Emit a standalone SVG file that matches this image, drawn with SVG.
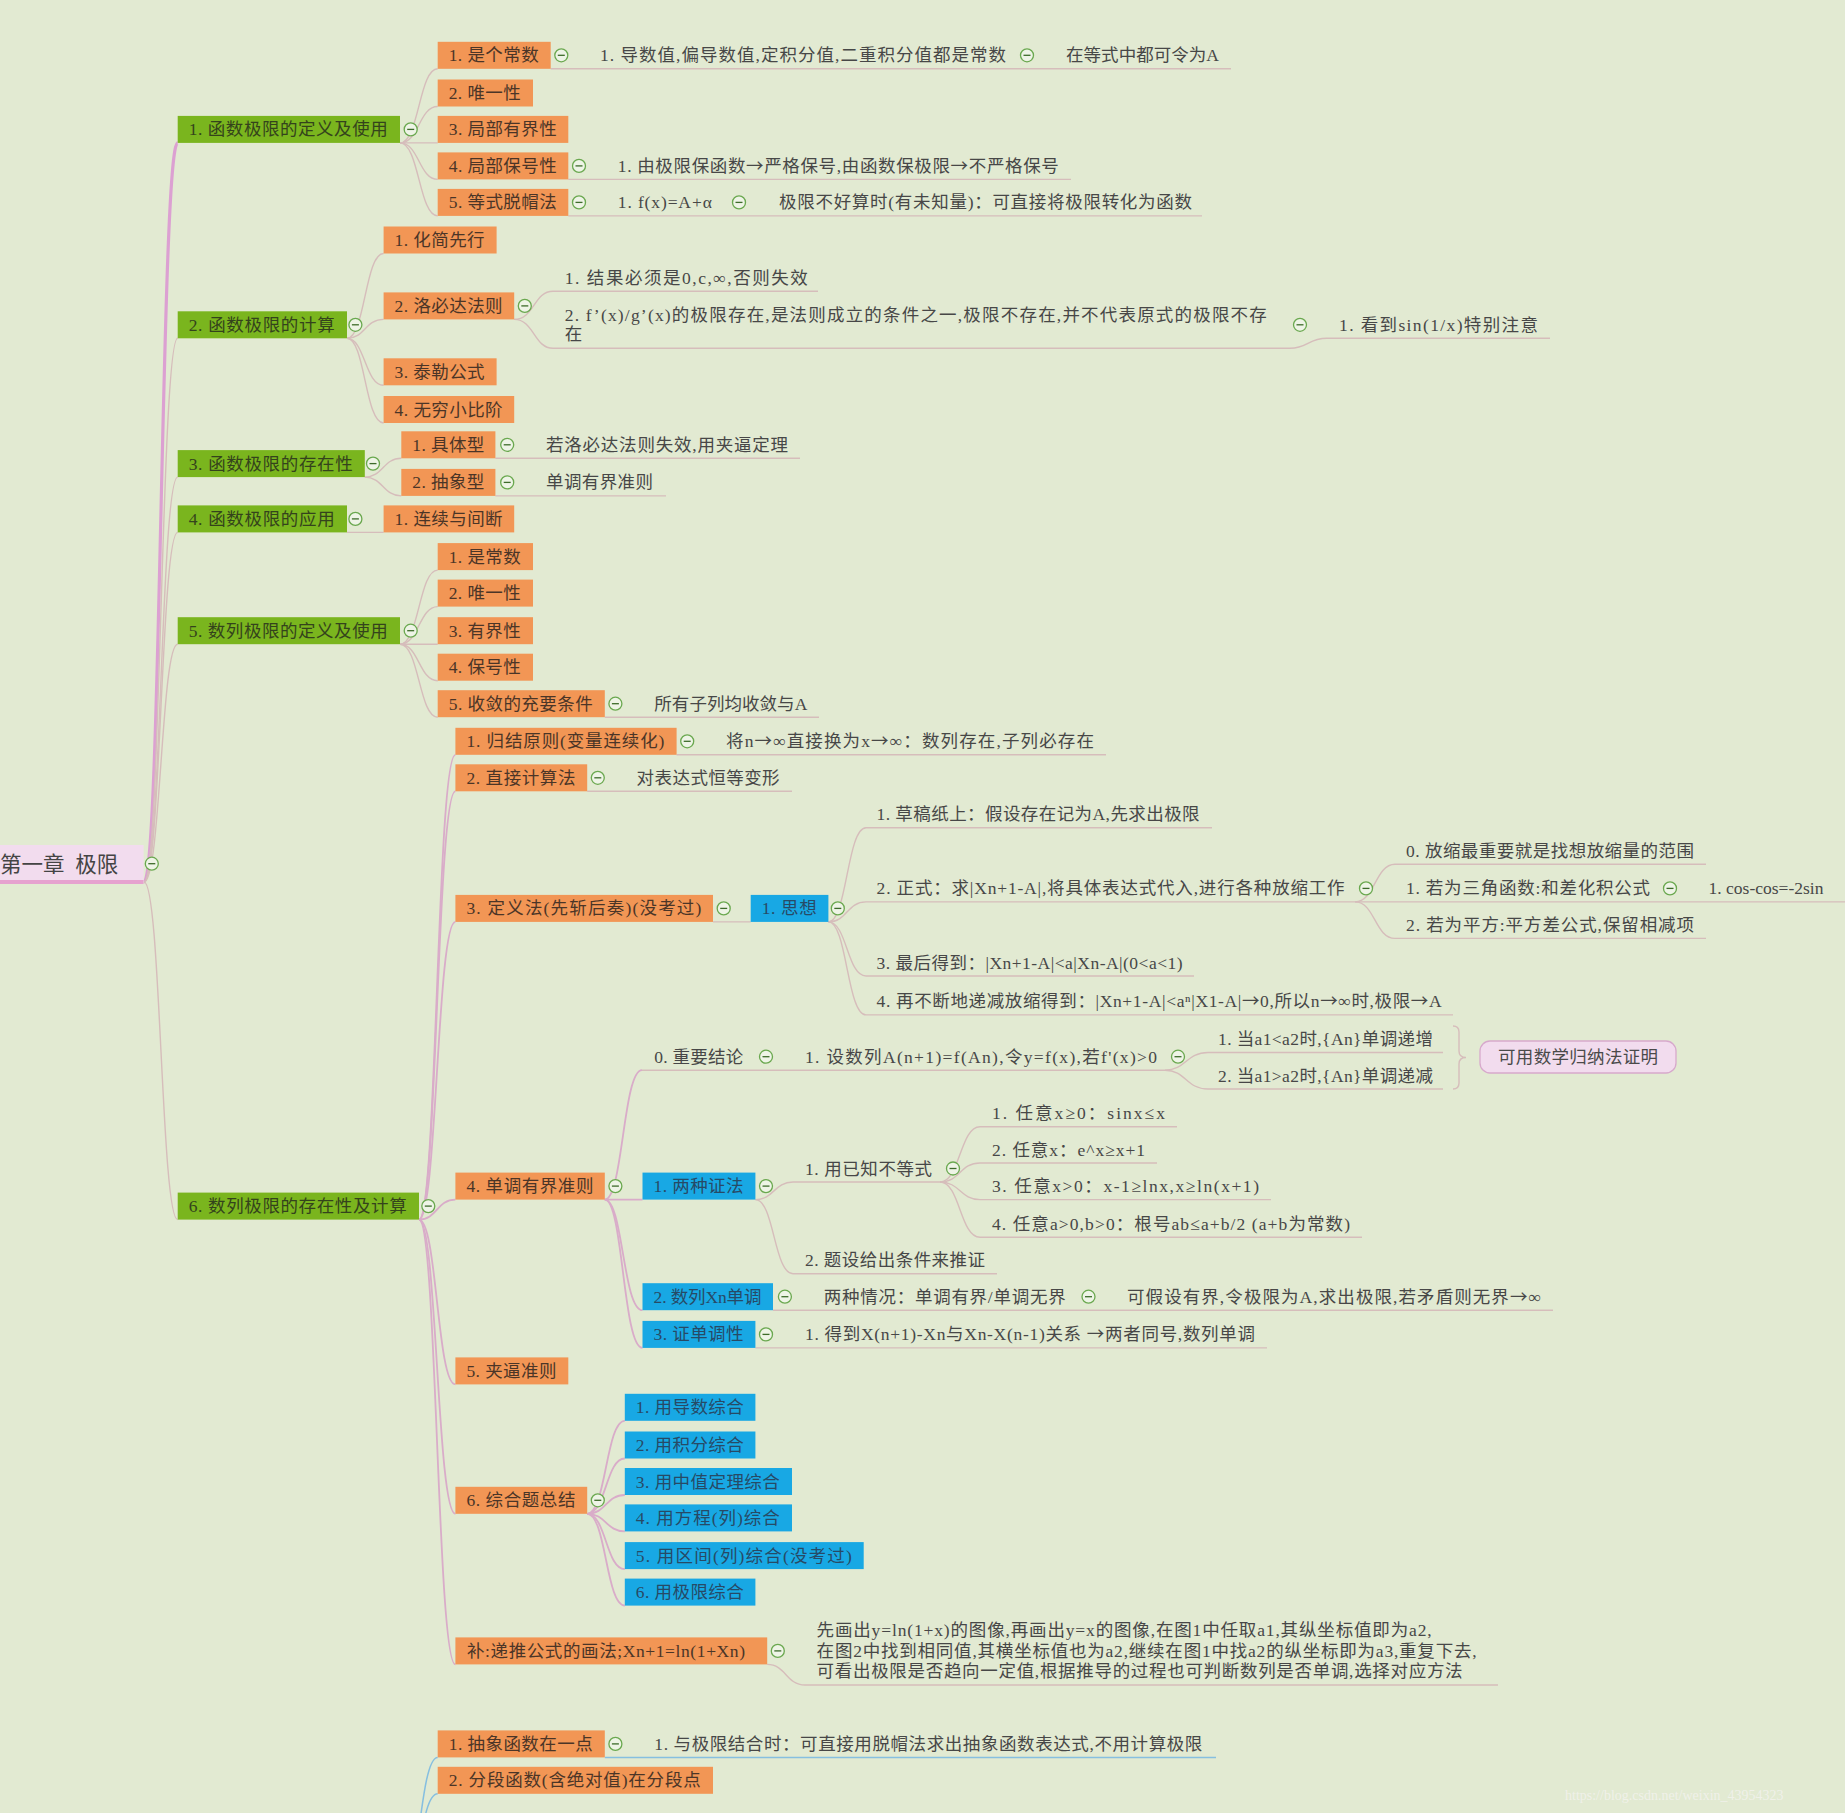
<svg xmlns="http://www.w3.org/2000/svg" xmlns:xlink="http://www.w3.org/1999/xlink" width="1845" height="1813" viewBox="0 0 1845 1813">
<style>
text{font-family:"Liberation Serif","Noto Sans CJK SC",serif;font-size:17.5px}
.ar{font-family:"Noto Sans CJK SC","DejaVu Sans",sans-serif}
.o{fill:#f29655}
.g{fill:#7ab51e}
.b{fill:#18a8e4}
.pk{fill:#f2dcee}
.to{fill:#4b3527}
.tg{fill:#34431c}
.tb{fill:#274a66}
.tt{fill:#474747}
.ln{fill:none;stroke:#d6bdbb;stroke-width:1.4}
.lp{fill:none;stroke:#d9acc9;stroke-width:1.8}
.lt{fill:none;stroke:#dca0d2;stroke-width:3.2}
.lb{fill:none;stroke:#86bfe0;stroke-width:1.5}
</style>
<defs>
<g id="col"><circle cx="0" cy="0" r="6.5" fill="#eef4e6" stroke="#6aa84f" stroke-width="1.3"/><path d="M-3.5 0H3.5" stroke="#3d6b2a" stroke-width="1.3"/></g>
</defs>
<rect x="0" y="0" width="1845" height="1813" fill="#e2ead2"/>

<g id="connectors">
<path class="lt" d="M144 882C161 882 161 142.9 177.7 142.9"/>
<path class="ln" d="M144 882C161 882 161 338.3 177.7 338.3"/>
<path class="ln" d="M144 882C161 882 161 477.1 177.7 477.1"/>
<path class="ln" d="M144 882C161 882 161 532.4 177.7 532.4"/>
<path class="ln" d="M144 882C161 882 161 644.2 177.7 644.2"/>
<path class="ln" d="M144 882C161 882 161 1219.6 177.7 1219.6"/>
<path class="ln" d="M400 142.9C419 142.9 419 68.8 437.7 68.8"/>
<path class="ln" d="M400 142.9C419 142.9 419 106.5 437.7 106.5"/>
<path class="ln" d="M400 142.9H437.7"/>
<path class="ln" d="M400 142.9C419 142.9 419 179.4 437.7 179.4"/>
<path class="ln" d="M400 142.9C419 142.9 419 215.9 437.7 215.9"/>
<path class="ln" d="M550.7 68.8H1231"/>
<path class="ln" d="M568.3 179.4H1071"/>
<path class="ln" d="M568.3 215.9H1202"/>
<path class="ln" d="M347 338.3C365 338.3 365 253.5 383.6 253.5"/>
<path class="ln" d="M347 338.3C365 338.3 365 319.4 383.6 319.4"/>
<path class="ln" d="M347 338.3C365 338.3 365 385.3 383.6 385.3"/>
<path class="ln" d="M347 338.3C365 338.3 365 423 383.6 423"/>
<path class="ln" d="M514.2 319.4C534 319.4 534 291.2 553 291.2H818"/>
<path class="ln" d="M514.2 319.4C534 319.4 534 348.3 553 348.3H1290"/>
<path class="ln" d="M1290 348.3C1308 348.3 1308 338.3 1327 338.3H1550"/>
<path class="ln" d="M364.8 477.1C383 477.1 383 458.3 401.3 458.3"/>
<path class="ln" d="M364.8 477.1C383 477.1 383 495.9 401.3 495.9"/>
<path class="ln" d="M495.4 458.3H800"/>
<path class="ln" d="M495.4 495.9H666"/>
<path class="ln" d="M347 532.4H383.6"/>
<path class="ln" d="M400 644.2C419 644.2 419 570.1 437.7 570.1"/>
<path class="ln" d="M400 644.2C419 644.2 419 606.6 437.7 606.6"/>
<path class="ln" d="M400 644.2H437.7"/>
<path class="ln" d="M400 644.2C419 644.2 419 680.7 437.7 680.7"/>
<path class="ln" d="M400 644.2C419 644.2 419 717.2 437.7 717.2"/>
<path class="ln" d="M604.8 717.2H819"/>
<path class="lp" d="M419 1219.6C437 1219.6 437 754.8 455.4 754.8"/>
<path class="lp" d="M419 1219.6C437 1219.6 437 791.3 455.4 791.3"/>
<path class="lp" d="M419 1219.6C437 1219.6 437 921.9 455.4 921.9"/>
<path class="lp" d="M419 1219.6C437 1219.6 437 1199.6 455.4 1199.6"/>
<path class="lp" d="M419 1219.6C437 1219.6 437 1384.4 455.4 1384.4"/>
<path class="lp" d="M419 1219.6C437 1219.6 437 1513.8 455.4 1513.8"/>
<path class="lp" d="M419 1219.6C437 1219.6 437 1664.4 455.4 1664.4"/>
<path class="ln" d="M676.6 754.8H1106"/>
<path class="ln" d="M587.2 791.3H792"/>
<path class="ln" d="M713 921.9H750.7"/>
<path class="ln" d="M828.4 921.9C847 921.9 847 827.8 866 827.8H1212"/>
<path class="ln" d="M828.4 921.9C847 921.9 847 901.9 866 901.9H1355"/>
<path class="ln" d="M828.4 921.9C847 921.9 847 976 866 976H1194"/>
<path class="ln" d="M828.4 921.9C847 921.9 847 1014.9 866 1014.9H1453"/>
<path class="ln" d="M1355 901.9C1375 901.9 1375 864.3 1395 864.3H1706"/>
<path class="ln" d="M1355 901.9H1845"/>
<path class="ln" d="M1355 901.9C1375 901.9 1375 938.4 1395 938.4H1706"/>
<path class="lp" d="M604.8 1199.6C623 1199.6 623 1070.2 642 1070.2"/>
<path class="ln" d="M642 1070.2H1165"/>
<path class="lp" d="M604.8 1199.6H642.5"/>
<path class="lp" d="M604.8 1199.6C623 1199.6 623 1310.2 642.5 1310.2"/>
<path class="lp" d="M604.8 1199.6C623 1199.6 623 1347.9 642.5 1347.9"/>
<path class="ln" d="M1165 1070.2C1186 1070.2 1186 1052.5 1208 1052.5H1443"/>
<path class="ln" d="M1165 1070.2C1186 1070.2 1186 1089 1208 1089H1443"/>
<path class="ln" d="M1453 1026Q1459 1026 1459 1032V1051Q1459 1057.5 1466 1057.5Q1459 1057.5 1459 1064V1083Q1459 1089 1453 1089"/>
<path class="ln" d="M755.4 1199.6C774 1199.6 774 1182 793 1182H940"/>
<path class="ln" d="M755.4 1199.6C774 1199.6 774 1273.7 793 1273.7H997"/>
<path class="ln" d="M940 1182C960 1182 960 1126.7 980 1126.7H1177"/>
<path class="ln" d="M940 1182C960 1182 960 1163 980 1163H1157"/>
<path class="ln" d="M940 1182C960 1182 960 1199.6 980 1199.6H1271"/>
<path class="ln" d="M940 1182C960 1182 960 1237.3 980 1237.3H1362"/>
<path class="ln" d="M773 1310.2H1553"/>
<path class="ln" d="M755.4 1347.9H1267"/>
<path class="lp" d="M587.2 1513.8C606 1513.8 606 1420.8 624.8 1420.8"/>
<path class="lp" d="M587.2 1513.8C606 1513.8 606 1458.5 624.8 1458.5"/>
<path class="lp" d="M587.2 1513.8C606 1513.8 606 1495 624.8 1495"/>
<path class="lp" d="M587.2 1513.8C606 1513.8 606 1531.4 624.8 1531.4"/>
<path class="lp" d="M587.2 1513.8C606 1513.8 606 1569.1 624.8 1569.1"/>
<path class="lp" d="M587.2 1513.8C606 1513.8 606 1605.6 624.8 1605.6"/>
<path class="ln" d="M767.2 1664.4C786 1664.4 786 1685 805 1685H1498"/>
<path class="lb" d="M400 1900C419 1900 419 1757.4 437.7 1757.4"/>
<path class="lb" d="M400 1900C419 1900 419 1793.8 437.7 1793.8"/>
<path class="lb" d="M604.8 1757.4H1216"/>
</g>

<g id="root">
<rect class="pk" x="0" y="845" width="143.6" height="37"/>
<path d="M0 882H143.6" stroke="#e6a2cf" stroke-width="4"/>
<text x="0" y="872" style="font-size:21.5px;white-space:pre" fill="#444">第一章  极限</text>
</g>

<g id="g1"><rect class="g" x="177.7" y="115.9" width="222.3" height="27"/><text class="tg" x="188.7" y="135.4" textLength="199">1. 函数极限的定义及使用</text></g>
<g id="g2"><rect class="g" x="177.7" y="311.3" width="169.3" height="27"/><text class="tg" x="188.7" y="330.8" textLength="146">2. 函数极限的计算</text></g>
<g id="g3"><rect class="g" x="177.7" y="450.1" width="187.1" height="27"/><text class="tg" x="188.7" y="469.6" textLength="164">3. 函数极限的存在性</text></g>
<g id="g4"><rect class="g" x="177.7" y="505.4" width="169.3" height="27"/><text class="tg" x="188.7" y="524.9" textLength="146">4. 函数极限的应用</text></g>
<g id="g5"><rect class="g" x="177.7" y="617.2" width="222.3" height="27"/><text class="tg" x="188.7" y="636.7" textLength="199">5. 数列极限的定义及使用</text></g>
<g id="g6"><rect class="g" x="177.7" y="1192.6" width="241.3" height="27"/><text class="tg" x="188.7" y="1212.1" textLength="218">6. 数列极限的存在性及计算</text></g>

<g id="n1-1"><rect class="o" x="437.7" y="41.8" width="113" height="27"/><text class="to" x="448.7" y="61.3" textLength="90">1. 是个常数</text></g>
<g id="n1-1-1"><text class="tt" x="600" y="61.3" textLength="406">1. 导数值,偏导数值,定积分值,二重积分值都是常数</text></g>
<g id="n1-1-1-1"><text class="tt" x="1066" y="61.3" textLength="153">在等式中都可令为A</text></g>
<g id="n1-2"><rect class="o" x="437.7" y="79.5" width="95.3" height="27"/><text class="to" x="448.7" y="99" textLength="72">2. 唯一性</text></g>
<g id="n1-3"><rect class="o" x="437.7" y="115.9" width="130.6" height="27"/><text class="to" x="448.7" y="135.4" textLength="108">3. 局部有界性</text></g>
<g id="n1-4"><rect class="o" x="437.7" y="152.4" width="130.6" height="27"/><text class="to" x="448.7" y="171.9" textLength="108">4. 局部保号性</text></g>
<g id="n1-4-1"><text class="tt" x="617.8" y="171.9" textLength="441">1. 由极限保函数<tspan class="ar">→</tspan>严格保号,由函数保极限<tspan class="ar">→</tspan>不严格保号</text></g>
<g id="n1-5"><rect class="o" x="437.7" y="188.9" width="130.6" height="27"/><text class="to" x="448.7" y="208.4" textLength="108">5. 等式脱帽法</text></g>
<g id="n1-5-1"><text class="tt" x="617.8" y="208.4" textLength="94">1. f(x)=A+α</text></g>
<g id="n1-5-1-1"><text class="tt" x="779" y="208.4" textLength="413">极限不好算时(有未知量)：可直接将极限转化为函数</text></g>

<g id="n2-1"><rect class="o" x="383.6" y="226.5" width="113" height="27"/><text class="to" x="394.6" y="246" textLength="90">1. 化简先行</text></g>
<g id="n2-2"><rect class="o" x="383.6" y="292.4" width="130.6" height="27"/><text class="to" x="394.6" y="311.9" textLength="108">2. 洛必达法则</text></g>
<g id="n2-2-1"><text class="tt" x="564.8" y="283.7" textLength="243">1. 结果必须是0,c,∞,否则失效</text></g>
<g id="n2-2-2"><text class="tt" x="564.8" y="321.4" textLength="702">2. f’(x)/g’(x)的极限存在,是法则成立的条件之一,极限不存在,并不代表原式的极限不存</text><text class="tt" x="564.8" y="340.2">在</text></g>
<g id="n2-2-2-1"><text class="tt" x="1339" y="330.8" textLength="199">1. 看到sin(1/x)特别注意</text></g>
<g id="n2-3"><rect class="o" x="383.6" y="358.3" width="113" height="27"/><text class="to" x="394.6" y="377.8" textLength="90">3. 泰勒公式</text></g>
<g id="n2-4"><rect class="o" x="383.6" y="396" width="130.6" height="27"/><text class="to" x="394.6" y="415.5" textLength="108">4. 无穷小比阶</text></g>

<g id="n3-1"><rect class="o" x="401.3" y="431.3" width="94.1" height="27"/><text class="to" x="412.3" y="450.8" textLength="72">1. 具体型</text></g>
<g id="n3-1-1"><text class="tt" x="546" y="450.8" textLength="242">若洛必达法则失效,用夹逼定理</text></g>
<g id="n3-2"><rect class="o" x="401.3" y="468.9" width="94.1" height="27"/><text class="to" x="412.3" y="488.4" textLength="72">2. 抽象型</text></g>
<g id="n3-2-1"><text class="tt" x="546" y="488.4" textLength="107">单调有界准则</text></g>

<g id="n4-1"><rect class="o" x="383.6" y="505.4" width="130.6" height="27"/><text class="to" x="394.6" y="524.9" textLength="108">1. 连续与间断</text></g>

<g id="n5-1"><rect class="o" x="437.7" y="543.1" width="95.3" height="27"/><text class="to" x="448.7" y="562.6" textLength="72">1. 是常数</text></g>
<g id="n5-2"><rect class="o" x="437.7" y="579.6" width="95.3" height="27"/><text class="to" x="448.7" y="599.1" textLength="72">2. 唯一性</text></g>
<g id="n5-3"><rect class="o" x="437.7" y="617.2" width="95.3" height="27"/><text class="to" x="448.7" y="636.7" textLength="72">3. 有界性</text></g>
<g id="n5-4"><rect class="o" x="437.7" y="653.7" width="95.3" height="27"/><text class="to" x="448.7" y="673.2" textLength="72">4. 保号性</text></g>
<g id="n5-5"><rect class="o" x="437.7" y="690.2" width="167.1" height="27"/><text class="to" x="448.7" y="709.7" textLength="144">5. 收敛的充要条件</text></g>
<g id="n5-5-1"><text class="tt" x="654.3" y="709.7" textLength="153">所有子列均收敛与A</text></g>

<g id="n6-1"><rect class="o" x="455.4" y="727.8" width="221.2" height="27"/><text class="to" x="466.4" y="747.3" textLength="198">1. 归结原则(变量连续化)</text></g>
<g id="n6-1-1"><text class="tt" x="726" y="747.3" textLength="368">将n<tspan class="ar">→</tspan>∞直接换为x<tspan class="ar">→</tspan>∞：数列存在,子列必存在</text></g>
<g id="n6-2"><rect class="o" x="455.4" y="764.3" width="131.8" height="27"/><text class="to" x="466.4" y="783.8" textLength="109">2. 直接计算法</text></g>
<g id="n6-2-1"><text class="tt" x="636.6" y="783.8" textLength="143">对表达式恒等变形</text></g>
<g id="n6-3"><rect class="o" x="455.4" y="894.9" width="257.6" height="27"/><text class="to" x="466.4" y="914.4" textLength="235">3. 定义法(先斩后奏)(没考过)</text></g>
<g id="n6-3-1"><rect class="b" x="750.7" y="894.9" width="77.7" height="27"/><text class="tb" x="761.7" y="914.4" textLength="55">1. 思想</text></g>
<g id="n6-3-1-1"><text class="tt" x="876.6" y="820.3" textLength="323">1. 草稿纸上：假设存在记为A,先求出极限</text></g>
<g id="n6-3-1-2"><text class="tt" x="876.6" y="894.4" textLength="468">2. 正式：求|Xn+1-A|,将具体表达式代入,进行各种放缩工作</text></g>
<g id="n6-3-1-2-0"><text class="tt" x="1406" y="856.8" textLength="288">0. 放缩最重要就是找想放缩量的范围</text></g>
<g id="n6-3-1-2-1"><text class="tt" x="1406" y="894.4" textLength="244">1. 若为三角函数:和差化积公式</text></g>
<g id="n6-3-1-2-1-1"><text class="tt" x="1708.6" y="894.4">1. cos-cos=-2sin</text></g>
<g id="n6-3-1-2-2"><text class="tt" x="1406" y="930.9" textLength="288">2. 若为平方:平方差公式,保留相减项</text></g>
<g id="n6-3-1-3"><text class="tt" x="876.6" y="968.5" textLength="306">3. 最后得到：|Xn+1-A|&lt;a|Xn-A|(0&lt;a&lt;1)</text></g>
<g id="n6-3-1-4"><text class="tt" x="876.6" y="1007.4" textLength="565">4. 再不断地递减放缩得到：|Xn+1-A|&lt;aⁿ|X1-A|<tspan class="ar">→</tspan>0,所以n<tspan class="ar">→</tspan>∞时,极限<tspan class="ar">→</tspan>A</text></g>

<g id="n6-4"><rect class="o" x="455.4" y="1172.6" width="149.4" height="27"/><text class="to" x="466.4" y="1192.1" textLength="127">4. 单调有界准则</text></g>
<g id="n6-4-0"><text class="tt" x="654.3" y="1062.7" textLength="89">0. 重要结论</text></g>
<g id="n6-4-0-1"><text class="tt" x="805" y="1062.7" textLength="352">1. 设数列A(n+1)=f(An),令y=f(x),若f'(x)&gt;0</text></g>
<g id="n6-4-0-1-1"><text class="tt" x="1218" y="1045" textLength="215">1. 当a1&lt;a2时,{An}单调递增</text></g>
<g id="n6-4-0-1-2"><text class="tt" x="1218" y="1081.5" textLength="215">2. 当a1&gt;a2时,{An}单调递减</text></g>
<g id="n6-4-0-sum"><rect x="1480" y="1041" width="196" height="32" rx="10" fill="#f2dcee" stroke="#d7a9cc" stroke-width="1.3"/><text x="1498" y="1063" textLength="160" fill="#4a4a4a">可用数学归纳法证明</text></g>
<g id="n6-4-1"><rect class="b" x="642.5" y="1172.6" width="112.9" height="27"/><text class="tb" x="653.5" y="1192.1" textLength="90">1. 两种证法</text></g>
<g id="n6-4-1-1"><text class="tt" x="805" y="1174.5" textLength="127">1. 用已知不等式</text></g>
<g id="n6-4-1-1-1"><text class="tt" x="992" y="1119.2" textLength="173">1. 任意x≥0：sinx≤x</text></g>
<g id="n6-4-1-1-2"><text class="tt" x="992" y="1155.6" textLength="153">2. 任意x：e^x≥x+1</text></g>
<g id="n6-4-1-1-3"><text class="tt" x="992" y="1192.1" textLength="267">3. 任意x&gt;0：x-1≥lnx,x≥ln(x+1)</text></g>
<g id="n6-4-1-1-4"><text class="tt" x="992" y="1229.8" textLength="358">4. 任意a&gt;0,b&gt;0：根号ab≤a+b/2 (a+b为常数)</text></g>
<g id="n6-4-1-2"><text class="tt" x="805" y="1266.2" textLength="180">2. 题设给出条件来推证</text></g>
<g id="n6-4-2"><rect class="b" x="642.5" y="1283.2" width="130.5" height="27"/><text class="tb" x="653.5" y="1302.7" textLength="108">2. 数列Xn单调</text></g>
<g id="n6-4-2-1"><text class="tt" x="823.7" y="1302.7" textLength="242">两种情况：单调有界/单调无界</text></g>
<g id="n6-4-2-1-1"><text class="tt" x="1127" y="1302.7" textLength="414">可假设有界,令极限为A,求出极限,若矛盾则无界<tspan class="ar">→</tspan>∞</text></g>
<g id="n6-4-3"><rect class="b" x="642.5" y="1320.9" width="112.9" height="27"/><text class="tb" x="653.5" y="1340.4" textLength="90">3. 证单调性</text></g>
<g id="n6-4-3-1"><text class="tt" x="805" y="1340.4" textLength="450">1. 得到X(n+1)-Xn与Xn-X(n-1)关系 <tspan class="ar">→</tspan>两者同号,数列单调</text></g>

<g id="n6-5"><rect class="o" x="455.4" y="1357.4" width="112.9" height="27"/><text class="to" x="466.4" y="1376.9" textLength="90">5. 夹逼准则</text></g>
<g id="n6-6"><rect class="o" x="455.4" y="1486.8" width="131.8" height="27"/><text class="to" x="466.4" y="1506.3" textLength="109">6. 综合题总结</text></g>
<g id="n6-6-1"><rect class="b" x="624.8" y="1393.8" width="130.6" height="27"/><text class="tb" x="635.8" y="1413.3" textLength="108">1. 用导数综合</text></g>
<g id="n6-6-2"><rect class="b" x="624.8" y="1431.5" width="130.6" height="27"/><text class="tb" x="635.8" y="1451" textLength="108">2. 用积分综合</text></g>
<g id="n6-6-3"><rect class="b" x="624.8" y="1468" width="167.2" height="27"/><text class="tb" x="635.8" y="1487.5" textLength="144">3. 用中值定理综合</text></g>
<g id="n6-6-4"><rect class="b" x="624.8" y="1504.4" width="167.2" height="27"/><text class="tb" x="635.8" y="1523.9" textLength="144">4. 用方程(列)综合</text></g>
<g id="n6-6-5"><rect class="b" x="624.8" y="1542.1" width="238.9" height="27"/><text class="tb" x="635.8" y="1561.6" textLength="216">5. 用区间(列)综合(没考过)</text></g>
<g id="n6-6-6"><rect class="b" x="624.8" y="1578.6" width="130.6" height="27"/><text class="tb" x="635.8" y="1598.1" textLength="108">6. 用极限综合</text></g>
<g id="n6-7"><rect class="o" x="455.4" y="1637.4" width="311.8" height="27"/><text class="to" x="467" y="1656.9" textLength="278">补:递推公式的画法;Xn+1=ln(1+Xn)</text></g>
<g id="n6-7-1"><text class="tt" x="816.6" y="1636" textLength="615">先画出y=ln(1+x)的图像,再画出y=x的图像,在图1中任取a1,其纵坐标值即为a2,</text><text class="tt" x="816.6" y="1657" textLength="660">在图2中找到相同值,其横坐标值也为a2,继续在图1中找a2的纵坐标即为a3,重复下去,</text><text class="tt" x="816.6" y="1677" textLength="646">可看出极限是否趋向一定值,根据推导的过程也可判断数列是否单调,选择对应方法</text></g>

<g id="n7-1"><rect class="o" x="437.7" y="1730.4" width="167.1" height="27"/><text class="to" x="448.7" y="1749.9" textLength="144">1. 抽象函数在一点</text></g>
<g id="n7-1-1"><text class="tt" x="654.3" y="1749.9" textLength="548">1. 与极限结合时：可直接用脱帽法求出抽象函数表达式,不用计算极限</text></g>
<g id="n7-2"><rect class="o" x="437.7" y="1766.8" width="275.3" height="27"/><text class="to" x="448.7" y="1786.3" textLength="252">2. 分段函数(含绝对值)在分段点</text></g>

<g id="collapse">
<use href="#col" x="151.8" y="863.7"/>
<use href="#col" x="410.7" y="129.4"/><use href="#col" x="355.4" y="324.8"/><use href="#col" x="373" y="463.6"/><use href="#col" x="355.4" y="518.9"/><use href="#col" x="410.7" y="630.7"/><use href="#col" x="428.3" y="1206.1"/>
<use href="#col" x="561.3" y="55.3"/><use href="#col" x="1027" y="55.3"/><use href="#col" x="579" y="165.9"/><use href="#col" x="579" y="202.4"/><use href="#col" x="739" y="202.4"/>
<use href="#col" x="524.8" y="305.9"/><use href="#col" x="1300" y="324.8"/>
<use href="#col" x="507.2" y="444.8"/><use href="#col" x="507.2" y="482.4"/>
<use href="#col" x="615.4" y="703.7"/>
<use href="#col" x="687.2" y="741.3"/><use href="#col" x="597.8" y="777.8"/><use href="#col" x="723.7" y="908.4"/><use href="#col" x="837.8" y="908.4"/><use href="#col" x="1366" y="888.4"/><use href="#col" x="1670" y="888.4"/>
<use href="#col" x="615.4" y="1186.1"/><use href="#col" x="766" y="1056.7"/><use href="#col" x="1178" y="1056.7"/><use href="#col" x="766" y="1186.1"/><use href="#col" x="953" y="1168.5"/><use href="#col" x="784.9" y="1296.7"/><use href="#col" x="1088.5" y="1296.7"/><use href="#col" x="766" y="1334.4"/>
<use href="#col" x="597.8" y="1500.3"/><use href="#col" x="777.8" y="1650.9"/>
<use href="#col" x="615.4" y="1743.9"/>
</g>
<text x="1565" y="1800" style="font-size:14px" fill="#f3f3ee" opacity="0.85">https://blog.csdn.net/weixin_43954323</text>
</svg>
